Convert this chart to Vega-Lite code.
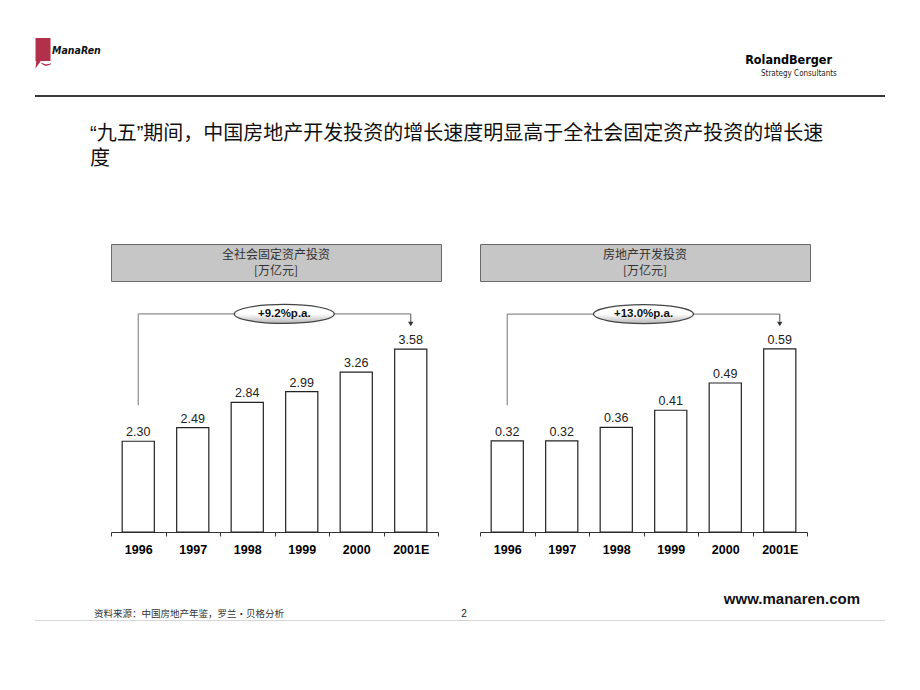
{
  "$schema": "https://vega.github.io/schema/vega-lite/v6.json",
  "background": "white",
  "padding": {"left": 35, "top": 0, "right": 0, "bottom": 0},
  "spacing": 0,
  "config": {"view": {"stroke": null}, "font": "Liberation Sans"},
  "vconcat": [
    {
      "spacing": 640,
      "hconcat": [
        {
          "spacing": 0,
          "hconcat": [
            {
              "width": 16, "height": 95,
              "data": {"values": [{"logo": "ManaRen"}]},
              "mark": {"type": "point", "filled": true, "opacity": 1, "color": "#b3304a", "size": 900,
                "shape": "M-0.5,-0.63 L0.5,-0.63 L0.5,0.9 L-0.5,0.9 Z M-0.45,0.9 L-0.15,0.9 L-0.5,1.4 Z M-0.1,0.98 C0.1,1.15 0.3,1.15 0.53,1.05 L0.53,1.12 C0.3,1.25 0.1,1.25 -0.1,1.06 Z"},
              "encoding": {}
            },
            {
              "width": 54, "height": 95,
              "data": {"values": [{"logo": "ManaRen"}]},
              "mark": {"type": "text", "align": "left", "dx": -26, "dy": 3, "font": "DejaVu Sans Condensed, Liberation Sans, sans-serif", "fontStyle": "italic", "fontWeight": "bold", "fontSize": 10.5, "color": "#111"},
              "encoding": {"text": {"field": "logo"}}
            }
          ]
        },
        {
          "width": 95, "height": 95,
          "data": {"values": [{"name": "RolandBerger", "tag": "Strategy Consultants"}]},
          "layer": [
            {
              "mark": {"type": "text", "align": "right", "dx": 35.5, "dy": 12, "font": "DejaVu Sans Condensed, Liberation Sans, sans-serif", "fontWeight": "bold", "fontSize": 12.5, "color": "#000"},
              "encoding": {"text": {"field": "name"}}
            },
            {
              "mark": {"type": "text", "align": "left", "dx": -35.5, "dy": 26, "font": "DejaVu Sans Condensed, Liberation Sans, sans-serif", "fontSize": 8, "color": "#222"},
              "encoding": {"text": {"field": "tag"}}
            }
          ]
        }
      ]
    },
    {
      "width": 850, "height": 2,
      "view": {"fill": "#3a3a3a", "stroke": null},
      "data": {"values": []},
      "mark": "text",
      "encoding": {"text": {"value": ""}}
    },
    {
      "width": 850, "height": 146,
      "data": {"values": [{"headline": "“九五”期间，中国房地产开发投资的增长速度明显高于全社会固定资产投资的增长速\n度"}]},
      "mark": {"type": "text", "align": "left", "baseline": "alphabetic", "dx": -370, "dy": -30, "font": "Liberation Sans, Noto Sans CJK SC", "fontSize": 20, "lineBreak": "\n", "lineHeight": 25, "color": "#111"},
      "encoding": {"text": {"field": "headline"}}
    },
    {
      "spacing": 37,
      "hconcat": [
        {
          "width": 38, "height": 10,
          "data": {"values": []},
          "mark": "text",
          "encoding": {"text": {"value": ""}}
        },
        {
          "spacing": 20,
          "vconcat": [
            {
              "width": 330, "height": 37,
              "view": {"fill": "#c6c6c6", "stroke": "#6a6a6a", "strokeWidth": 1},
              "data": {"values": [{"t": "全社会固定资产投资", "u": "[万亿元]"}]},
              "layer": [
                {"mark": {"type": "text", "dy": -7.5, "font": "Noto Sans CJK SC", "fontSize": 12, "color": "#333"}, "encoding": {"text": {"field": "t"}}},
                {"mark": {"type": "text", "dy": 8.5, "font": "Noto Sans CJK SC", "fontSize": 12, "color": "#333"}, "encoding": {"text": {"field": "u"}}}
              ]
            },
            {
              "width": 327, "height": 230,
              "layer": [
                {
                  "data": {"values": [
                    {"year": "1996", "value": 2.30},
                    {"year": "1997", "value": 2.49},
                    {"year": "1998", "value": 2.84},
                    {"year": "1999", "value": 2.99},
                    {"year": "2000", "value": 3.26},
                    {"year": "2001E", "value": 3.58}
                  ]},
                  "layer": [
                    {
                      "mark": {"type": "bar", "fill": "white", "stroke": "#222", "strokeWidth": 1.2, "width": {"band": 0.59}},
                      "encoding": {
                        "x": {"field": "year", "type": "ordinal", "sort": null, "title": null,
                          "scale": {"paddingInner": 0, "paddingOuter": 0},
                          "axis": {"labelAngle": 0, "labelFont": "Liberation Sans", "labelFontWeight": "bold", "labelFontSize": 12.5, "labelColor": "#000", "labelPadding": 7, "domainColor": "#333", "domainWidth": 1.2, "tickColor": "#333", "tickSize": 4, "tickBand": "extent"}},
                        "y": {"field": "value", "type": "quantitative", "axis": null, "scale": {"domain": [1.04, 4.234], "nice": false, "zero": false}},
                        "y2": {"datum": 1.04}
                      }
                    },
                    {
                      "mark": {"type": "text", "baseline": "alphabetic", "dy": -5, "fontSize": 12.5, "color": "#222"},
                      "encoding": {
                        "x": {"field": "year", "type": "ordinal", "sort": null, "title": null},
                        "y": {"field": "value", "type": "quantitative", "axis": null},
                        "text": {"field": "value", "type": "quantitative", "format": ".2f"}
                      }
                    }
                  ]
                },
                {
                  "data": {"values": [{"from": "1996", "to": "2001E", "mid": "1999", "growth": "+9.2%p.a."}]},
                  "layer": [
                    {
                      "mark": {"type": "rule", "color": "#8c8c8c", "strokeWidth": 1.2},
                      "encoding": {"x": {"field": "from", "type": "ordinal", "title": null}, "y": {"datum": 2.80, "axis": null}, "y2": {"datum": 4.068}}
                    },
                    {
                      "mark": {"type": "rule", "color": "#8c8c8c", "strokeWidth": 1.2},
                      "encoding": {"x": {"field": "from", "type": "ordinal", "title": null}, "x2": {"field": "to", "title": null}, "y": {"datum": 4.068, "axis": null}}
                    },
                    {
                      "mark": {"type": "rule", "color": "#6a6a6a", "strokeWidth": 1.2},
                      "encoding": {"x": {"field": "to", "type": "ordinal", "title": null}, "y": {"datum": 4.068, "axis": null}, "y2": {"datum": 3.95}}
                    },
                    {
                      "mark": {"type": "point", "shape": "triangle-down", "filled": true, "opacity": 1, "size": 28, "color": "#333"},
                      "encoding": {"x": {"field": "to", "type": "ordinal", "title": null}, "y": {"datum": 3.929, "axis": null}}
                    },
                    {
                      "mark": {"type": "point", "filled": true, "opacity": 1, "size": 10000,
                        "shape": "M-1,0 A1,0.19 0 1,0 1,0 A1,0.19 0 1,0 -1,0 Z",
                        "fill": {"gradient": "linear", "x1": 0, "y1": 0, "x2": 0, "y2": 1, "stops": [{"offset": 0, "color": "#ffffff"}, {"offset": 0.5, "color": "#ffffff"}, {"offset": 1, "color": "#b4b4b4"}]},
                        "stroke": "#444", "strokeWidth": 1.2},
                      "encoding": {"x": {"field": "mid", "type": "ordinal", "bandPosition": 0.18, "title": null}, "y": {"datum": 4.068, "axis": null}}
                    },
                    {
                      "mark": {"type": "text", "fontWeight": "bold", "fontSize": 11.5, "color": "#111"},
                      "encoding": {"x": {"field": "mid", "type": "ordinal", "bandPosition": 0.18, "title": null}, "y": {"datum": 4.068, "axis": null}, "text": {"field": "growth"}}
                    }
                  ]
                }
              ]
            }
          ]
        },
        {
          "spacing": 20,
          "vconcat": [
            {
              "width": 330, "height": 37,
              "view": {"fill": "#c6c6c6", "stroke": "#6a6a6a", "strokeWidth": 1},
              "data": {"values": [{"t": "房地产开发投资", "u": "[万亿元]"}]},
              "layer": [
                {"mark": {"type": "text", "dy": -7.5, "font": "Noto Sans CJK SC", "fontSize": 12, "color": "#333"}, "encoding": {"text": {"field": "t"}}},
                {"mark": {"type": "text", "dy": 8.5, "font": "Noto Sans CJK SC", "fontSize": 12, "color": "#333"}, "encoding": {"text": {"field": "u"}}}
              ]
            },
            {
              "width": 327, "height": 230,
              "layer": [
                {
                  "data": {"values": [
                    {"year": "1996", "value": 0.32},
                    {"year": "1997", "value": 0.32},
                    {"year": "1998", "value": 0.36},
                    {"year": "1999", "value": 0.41},
                    {"year": "2000", "value": 0.49},
                    {"year": "2001E", "value": 0.59}
                  ]},
                  "layer": [
                    {
                      "mark": {"type": "bar", "fill": "white", "stroke": "#222", "strokeWidth": 1.2, "width": {"band": 0.59}},
                      "encoding": {
                        "x": {"field": "year", "type": "ordinal", "sort": null, "title": null,
                          "scale": {"paddingInner": 0, "paddingOuter": 0},
                          "axis": {"labelAngle": 0, "labelFont": "Liberation Sans", "labelFontWeight": "bold", "labelFontSize": 12.5, "labelColor": "#000", "labelPadding": 7, "domainColor": "#333", "domainWidth": 1.2, "tickColor": "#333", "tickSize": 4, "tickBand": "extent"}},
                        "y": {"field": "value", "type": "quantitative", "axis": null, "scale": {"domain": [0.053, 0.7275], "nice": false, "zero": false}},
                        "y2": {"datum": 0.053}
                      }
                    },
                    {
                      "mark": {"type": "text", "baseline": "alphabetic", "dy": -5, "fontSize": 12.5, "color": "#222"},
                      "encoding": {
                        "x": {"field": "year", "type": "ordinal", "sort": null, "title": null},
                        "y": {"field": "value", "type": "quantitative", "axis": null},
                        "text": {"field": "value", "type": "quantitative", "format": ".2f"}
                      }
                    }
                  ]
                },
                {
                  "data": {"values": [{"from": "1996", "to": "2001E", "mid": "1999", "growth": "+13.0%p.a."}]},
                  "layer": [
                    {
                      "mark": {"type": "rule", "color": "#8c8c8c", "strokeWidth": 1.2},
                      "encoding": {"x": {"field": "from", "type": "ordinal", "title": null}, "y": {"datum": 0.425, "axis": null}, "y2": {"datum": 0.692}}
                    },
                    {
                      "mark": {"type": "rule", "color": "#8c8c8c", "strokeWidth": 1.2},
                      "encoding": {"x": {"field": "from", "type": "ordinal", "title": null}, "x2": {"field": "to", "title": null}, "y": {"datum": 0.692, "axis": null}}
                    },
                    {
                      "mark": {"type": "rule", "color": "#6a6a6a", "strokeWidth": 1.2},
                      "encoding": {"x": {"field": "to", "type": "ordinal", "title": null}, "y": {"datum": 0.692, "axis": null}, "y2": {"datum": 0.67}}
                    },
                    {
                      "mark": {"type": "point", "shape": "triangle-down", "filled": true, "opacity": 1, "size": 28, "color": "#333"},
                      "encoding": {"x": {"field": "to", "type": "ordinal", "title": null}, "y": {"datum": 0.663, "axis": null}}
                    },
                    {
                      "mark": {"type": "point", "filled": true, "opacity": 1, "size": 10000,
                        "shape": "M-1,0 A1,0.19 0 1,0 1,0 A1,0.19 0 1,0 -1,0 Z",
                        "fill": {"gradient": "linear", "x1": 0, "y1": 0, "x2": 0, "y2": 1, "stops": [{"offset": 0, "color": "#ffffff"}, {"offset": 0.5, "color": "#ffffff"}, {"offset": 1, "color": "#b4b4b4"}]},
                        "stroke": "#444", "strokeWidth": 1.2},
                      "encoding": {"x": {"field": "mid", "type": "ordinal", "bandPosition": 0, "title": null}, "y": {"datum": 0.692, "axis": null}}
                    },
                    {
                      "mark": {"type": "text", "fontWeight": "bold", "fontSize": 11.5, "color": "#111"},
                      "encoding": {"x": {"field": "mid", "type": "ordinal", "bandPosition": 0, "title": null}, "y": {"datum": 0.692, "axis": null}, "text": {"field": "growth"}}
                    }
                  ]
                }
              ]
            }
          ]
        }
      ]
    },
    {
      "width": 850, "height": 64,
      "data": {"values": [{"source": "资料来源：中国房地产年鉴，罗兰•贝格分析", "page": "2", "url": "www.manaren.com"}]},
      "layer": [
        {"mark": {"type": "text", "align": "left", "dx": -366, "dy": 26, "font": "Noto Sans CJK SC", "fontSize": 9.5, "color": "#333"}, "encoding": {"text": {"field": "source"}}},
        {"mark": {"type": "text", "dx": 4, "dy": 26, "fontSize": 10, "color": "#222"}, "encoding": {"text": {"field": "page"}}},
        {"mark": {"type": "text", "align": "right", "dx": 400, "dy": 11, "fontWeight": "bold", "fontSize": 15, "color": "#111"}, "encoding": {"text": {"field": "url"}}}
      ]
    },
    {
      "width": 850, "height": 1,
      "view": {"fill": "#d6d6d6", "stroke": null},
      "data": {"values": []},
      "mark": "text",
      "encoding": {"text": {"value": ""}}
    }
  ]
}
